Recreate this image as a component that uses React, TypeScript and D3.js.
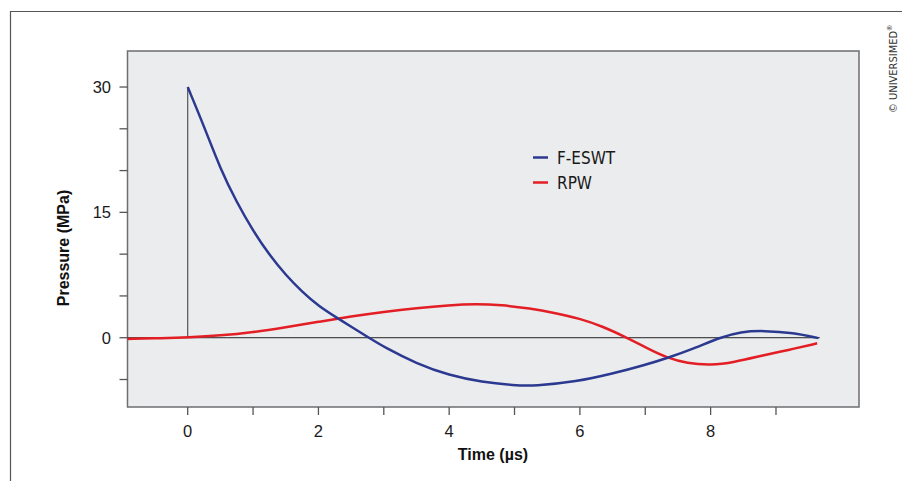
import React from "react";
import * as d3 from "d3";

// F-ESWT pressure curve (time µs, pressure MPa)
const blueT = [0, 0.25, 0.5, 0.75, 1.0, 1.25, 1.5, 1.75, 2.0, 2.3, 2.77, 3.0, 3.5, 4.0, 4.5, 5.0, 5.3, 5.95, 6.5, 7.0, 7.33, 7.74, 8.15, 8.46, 8.81, 9.27, 9.65];
const blueP = [30, 25.3, 20.2, 16.2, 12.8, 9.9, 7.5, 5.5, 3.8, 2.3, 0, -1.1, -3.1, -4.5, -5.3, -5.7, -5.78, -5.26, -4.3, -3.25, -2.45, -1.3, 0.05, 0.72, 0.85, 0.6, -0.05];

// RPW pressure curve
const redT = [-0.92, -0.4, 0, 0.5, 1.0, 1.5, 2.0, 2.5, 3.0, 3.5, 4.0, 4.4, 4.8, 5.24, 5.6, 6.0, 6.35, 6.72, 7.03, 7.33, 7.64, 8.0, 8.35, 8.81, 9.2, 9.63];
const redP = [-0.15, -0.05, 0.05, 0.25, 0.65, 1.25, 1.9, 2.55, 3.1, 3.55, 3.9, 4.05, 3.92, 3.5, 3.0, 2.3, 1.35, 0, -1.27, -2.4, -3.06, -3.3, -2.95, -2.1, -1.45, -0.67];

const xTicks = [0, 1, 2, 3, 4, 5, 6, 7, 8, 9];
const xLabels = [0, 2, 4, 6, 8];
const yTicks = [-5, 0, 5, 10, 15, 20, 25, 30];
const yLabels = [0, 15, 30];
const seriesNames = ["F-ESWT", "RPW"];
const seriesColors = ["#2b3990", "#e31e24"];

const L = 127.5, R = 859, T = 51, B = 407;

function App() {
  const x = d3.scaleLinear().domain([-0.921, 10.27]).range([L, R]);
  const y = d3.scaleLinear().domain([-8.29, 34.31]).range([B, T]);

  const line = d3
    .line<[number, number]>()
    .x((d) => x(d[0]))
    .y((d) => y(d[1]))
    .curve(d3.curveBasis);

  const blue = blueT.map((t, i) => [t, blueP[i]] as [number, number]);
  const red = redT.map((t, i) => [t, redP[i]] as [number, number]);

  const font = "'Liberation Sans', Arial, sans-serif";
  const narrow = "'Liberation Sans Narrow', 'DejaVu Sans Condensed', 'Liberation Sans', sans-serif";

  return (
    <svg width={902} height={481} style={{ position: "absolute", left: 0, top: 0, background: "#fff" }}>
      {/* outer frame, open at right and bottom */}
      <path d="M10.5,481 V11.5 H902" fill="none" stroke="#555" strokeWidth={1.2} />

      <rect x={L} y={T} width={R - L} height={B - T} fill="#ebeced" stroke="#6d6e71" strokeWidth={1.5} />

      {/* x ticks */}
      {xTicks.map((t) => (
        <line key={"xt" + t} x1={x(t)} x2={x(t)} y1={B} y2={B + 8} stroke="#555" strokeWidth={1.3} />
      ))}
      {xLabels.map((t) => (
        <text key={"xl" + t} x={x(t)} y={437} textAnchor="middle" fontFamily={font} fontSize={16.5} fill="#1a1a1a">
          {t}
        </text>
      ))}

      {/* y ticks */}
      {yTicks.map((t) => (
        <line key={"yt" + t} x1={L - 8} x2={L} y1={y(t)} y2={y(t)} stroke="#555" strokeWidth={1.3} />
      ))}
      {yLabels.map((t) => (
        <text key={"yl" + t} x={111} y={y(t) + 6} textAnchor="end" fontFamily={font} fontSize={16.5} fill="#1a1a1a">
          {t}
        </text>
      ))}

      {/* zero line and pulse start */}
      <line x1={L} x2={x(9.67)} y1={y(0)} y2={y(0)} stroke="#222" strokeWidth={1} />
      <line x1={x(0)} x2={x(0)} y1={y(0)} y2={y(30)} stroke="#555" strokeWidth={1.2} />

      <path d={line(red) || ""} fill="none" stroke={seriesColors[1]} strokeWidth={2.5} />
      <path d={line(blue) || ""} fill="none" stroke={seriesColors[0]} strokeWidth={2.5} />

      {/* legend */}
      {seriesNames.map((n, i) => (
        <g key={n} transform={`translate(533,${157.5 + i * 25})`}>
          <line x1={0} x2={15} y1={0} y2={0} stroke={seriesColors[i]} strokeWidth={2.5} />
          <text x={24} y={6.5} fontFamily={narrow} fontSize={17} fill="#1a1a1a">
            {n}
          </text>
        </g>
      ))}

      {/* axis titles */}
      <text x={493} y={460} textAnchor="middle" fontFamily={font} fontWeight="bold" fontSize={16} fill="#111">
        Time (µs)
      </text>
      <text
        transform="translate(69,248) rotate(-90)"
        textAnchor="middle"
        fontFamily={font}
        fontWeight="bold"
        fontSize={16}
        fill="#111"
      >
        Pressure (MPa)
      </text>

      {/* copyright */}
      <text transform="translate(897,113) rotate(-90)" fontFamily={narrow} fontSize={11} fill="#333">
        © UNIVERSIMED
        <tspan fontSize={7} dy={-5}>®</tspan>
      </text>
    </svg>
  );
}

export default App;
